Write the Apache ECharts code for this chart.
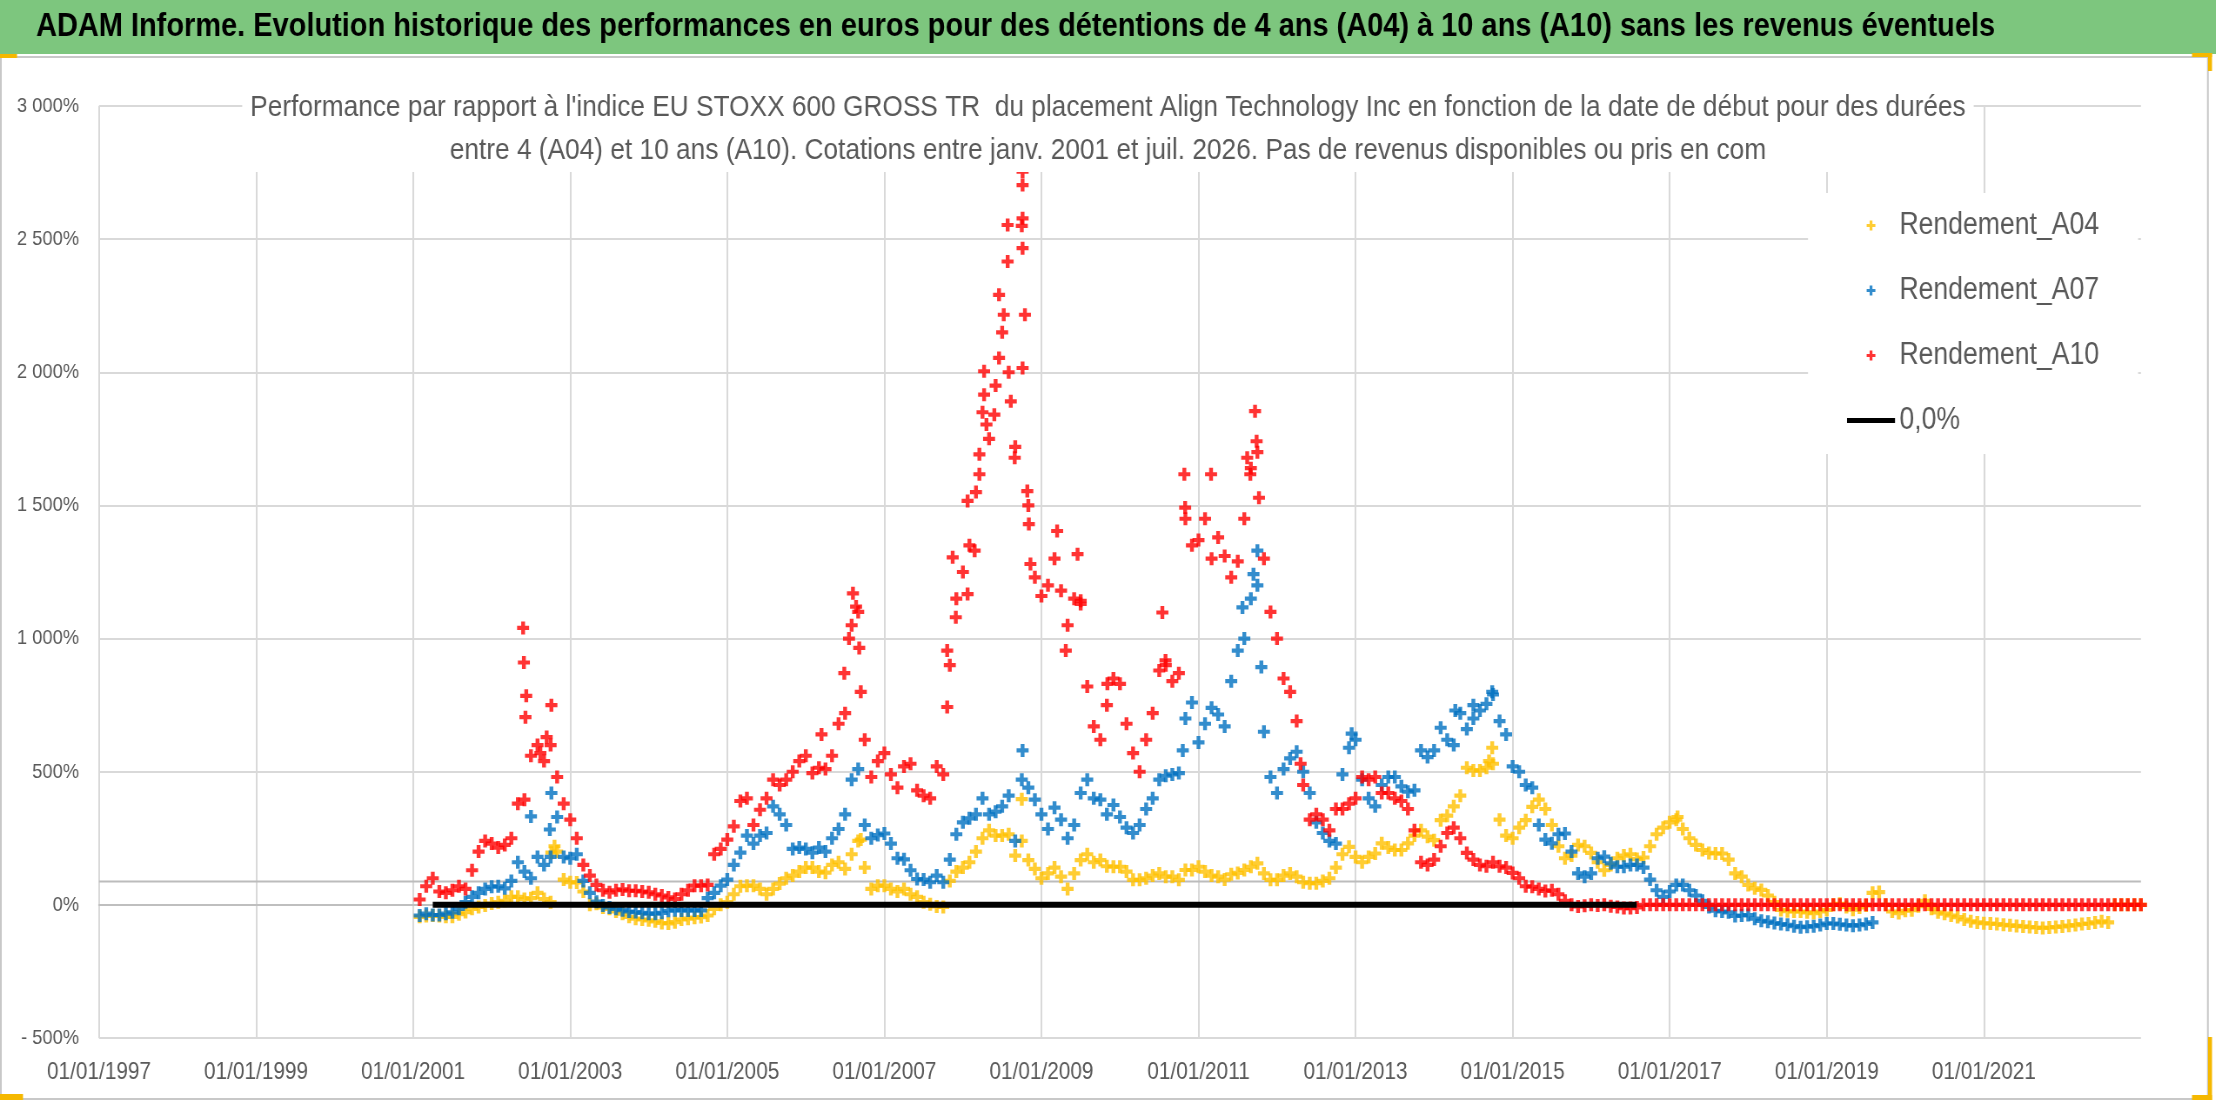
<!DOCTYPE html>
<html>
<head>
<meta charset="utf-8">
<title>ADAM Informe - Align Technology Inc</title>
<script src="https://cdn.jsdelivr.net/npm/echarts@6/dist/echarts.min.js"></script>
<style>
  html, body { margin: 0; padding: 0; background: #fff; overflow: hidden; }
  /* Calibri-like proportions: the chart is drawn wider, then narrowed */
  #chart { width: 2547px; height: 1102px; transform: scaleX(0.87); transform-origin: 0 0; }
</style>
</head>
<body>
<div id="chart"></div>
<script>
// tick labels
var xTickLabels = ['01/01/1997', '01/01/1999', '01/01/2001', '01/01/2003', '01/01/2005', '01/01/2007',
  '01/01/2009', '01/01/2011', '01/01/2013', '01/01/2015', '01/01/2017', '01/01/2019', '01/01/2021'];
var yTickLabels = ['- 500%', '0%', '500%', '1 000%', '1 500%', '2 000%', '2 500%', '3 000%'];

// monthly values (%), first value = fevrier 2001
var firstMonth = 2001 + 1 / 12;

var a04 = [
  -45, -42, -40, -42, -45, -45, -35, -27, -15, -8, -2, 5,
  10, 15, 30, 30, 22, 25, 45, 22, 10, 200, 95, 85,
  84, 50, 0, 4, -10, -15, -25, -33, -45, -52, -55, -58,
  -62, -68, -70, -65, -55, -52, -48, -46, -40, -15, 0, 10,
  40, 70, 72, 72, 60, 40, 60, 80, 100, 110, 125, 140,
  140, 125, 121, 150, 160, 135, 190, 240, 140, 60, 72, 72,
  60, 50, 60, 40, 30, 10, 2, -6, -8, 90, 125, 140,
  160, 200, 250, 280, 260, 260, 265, 185, 240, 168, 135, 100,
  118, 140, 106, 60, 118, 168, 190, 160, 168, 145, 143, 143,
  125, 94, 94, 100, 110, 118, 106, 106, 94, 131, 131, 143,
  125, 110, 106, 95, 115, 120, 131, 143, 156, 118, 94, 94,
  110, 118, 106, 85, 81, 81, 90, 100, 140, 190, 218, 180,
  160, 180, 193, 231, 215, 206, 206, 231, 260, 280, 256, 243,
  318, 335, 370, 410, 515, 505, 505, 515, 530, 320, 260, 250,
  290, 318, 368, 395, 360, 300, 220, 175, 185, 225, 220, 195,
  160, 130, 150, 175, 185, 190, 172, 178, 220, 265, 290, 310,
  320, 285, 250, 225, 206, 195, 193, 193, 170, 118, 106, 75,
  62, 56, 35, 10, -19, -24, -25, -25, -28, -31, -25, -19,
  0, 4, -8, -18, -10, -2, 45, 48, 0, -25, -31, -22,
  -20, -5, 15, -15, -28, -33, -40, -46, -55, -62, -66, -69,
  -70, -72, -75, -77, -79, -81, -83, -85, -87, -85, -83, -81,
  -78, -76, -72, -70, -66, -62, -66,
  0, 0, 0, 0, 0
];

var a07 = [
  -40, -33, -38, -38, -33, -28, -15, 10, 30, 45, 60, 68,
  70, 62, 90, 160, 125, 100, 180, 150, 180, 330, 180, 175,
  190, 90, 45, 12, -2, -10, -15, -20, -25, -27, -30, -33,
  -33, -30, -22, -20, -21, -21, -21, -21, 25, 45, 72, 95,
  150, 196, 260, 230, 260, 270, 370, 340, 300, 210, 215, 210,
  196, 215, 200, 250, 285, 340, 470, 510, 300, 250, 262, 268,
  230, 175, 171, 130, 97, 95, 85, 110, 85, 170, 265, 310,
  325, 340, 400, 340, 350, 370, 410, 240, 470, 440, 395, 340,
  285, 365, 320, 250, 300, 420, 470, 400, 395, 340, 375, 330,
  290, 270, 300, 360, 400, 470, 485, 490, 495, 700, 760, 610,
  680, 740, 715, 670, 840, 955, 1000, 1150, 1200, 650, 480, 420,
  510, 550, 575, 500, 420, 310, 270, 240, 230, 490, 590, 620,
  470, 400, 370, 450, 480, 480, 445, 425, 430, 580, 555, 580,
  665, 620, 600, 720, 660, 700, 730, 755, 790, 690, 640, 520,
  500, 450, 440, 300, 245, 231, 265, 268, 200, 118, 106, 118,
  175, 181, 156, 143, 143, 150, 150, 140, 95, 55, 30, 50,
  75, 75, 55, 35, 15, -8, -22, -25, -28, -42, -40, -38,
  -52, -60, -63, -68, -72, -75, -80, -84, -82, -80, -76, -70,
  -70, -73, -76, -78, -76, -72, -66
];

var a10 = [
  20, 70, 100, 50, 45, 55, 70, 60, 130, 200, 240, 230,
  215, 225, 250, 380, 395, 560, 600, 540, 600, 480, 380, 320,
  250, 150, 110, 75, 55, 47, 55, 58, 53, 53, 50, 47,
  40, 35, 28, 22, 40, 55, 72, 72, 75, 190, 210, 245,
  295, 390, 400, 300, 357, 400, 470, 450, 470, 500, 540, 560,
  495, 515, 510, 560, 680, 720, 1050, 1100, 620, 480, 540, 570,
  490, 440, 520, 530, 430, 410, 400, 520, 490, 900, 1150, 1250,
  1350, 1550, 1850, 1750, 1950, 2150, 2000, 1720, 2550, 1500, 1230, 1160,
  1200, 1300, 1180, 1050, 1150, 1130, 820, 670, 620, 750, 850, 830,
  680, 570, 500, 620, 720, 880, 900, 840, 870, 1450, 1350, 1370,
  1450, 1300, 1380, 1310, 1230, 1290, 1450, 1640, 1700, 1300, 1100, 1000,
  850, 800, 690, 450, 320, 340, 320, 280, 360, 360, 380, 400,
  480, 470, 480, 420, 420, 400, 390, 360, 280, 160, 150, 170,
  220, 270, 290, 250, 195, 170, 150, 145, 160, 145, 140, 120,
  100, 70, 68, 60, 52, 55, 40, 15, 0, -6, -3, 0,
  -2, 0, -5, -8, -12, -12, -10,
  // valeurs nulles ensuite
  0, 0, 0, 0, 0, 0, 0, 0, 0, 0, 0, 0, 0, 0, 0, 0, 0, 0, 0, 0,
  0, 0, 0, 0, 0, 0, 0, 0, 0, 0, 0, 0, 0, 0, 0, 0, 0, 0, 0, 0,
  0, 0, 0, 0, 0, 0, 0, 0, 0, 0, 0, 0, 0, 0, 0, 0, 0, 0, 0, 0,
  0, 0, 0, 0, 0, 0, 0, 0, 0, 0, 0, 0, 0, 0, 0, 0, 0
];

// isolated points (date in years, %)
var a04Spikes = [[2002.76, 196], [2002.80, 220], [2006.70, 245], [2008.75, 397], [2014.74, 590],
  [2014.70, 540], [2017.10, 330]];
var a07Spikes = [[2002.50, 332], [2002.76, 420], [2002.74, 283], [2008.76, 580], [2010.80, 580],
  [2011.56, 1117], [2011.70, 1242], [2011.75, 1330], [2011.80, 893], [2012.95, 643],
  [2014.27, 730], [2014.50, 750], [2014.74, 800]];
var a10Spikes = [[2002.40, 1040], [2002.41, 910], [2002.44, 785], [2002.43, 705], [2002.76, 750],
  [2002.70, 630], [2002.62, 570], [2006.55, 1000], [2006.60, 1170], [2006.64, 1120], [2006.68, 965],
  [2006.70, 800], [2006.49, 870], [2006.20, 640], [2007.80, 743], [2007.80, 955], [2007.87, 1305],
  [2007.91, 1080], [2008.06, 1517], [2008.06, 1167], [2008.15, 1330], [2008.21, 1692], [2008.21, 1617],
  [2008.27, 1916], [2008.27, 2004], [2008.30, 1804], [2008.40, 1841], [2008.46, 2291], [2008.46, 2054],
  [2008.52, 2216], [2008.57, 2416], [2008.57, 2553], [2008.61, 1891], [2008.66, 1679], [2008.76, 2753],
  [2008.76, 2703], [2008.76, 2578], [2008.76, 2466], [2008.76, 2016], [2008.79, 2216], [2008.82, 1554],
  [2008.84, 1430], [2008.86, 1280], [2009.20, 1404], [2009.31, 955], [2009.46, 1317], [2009.50, 1142],
  [2009.84, 830], [2010.54, 1098], [2010.58, 918], [2010.82, 1617], [2010.83, 1492], [2011.16, 1617],
  [2011.62, 1679], [2011.66, 1617], [2011.72, 1854], [2011.74, 1741], [2011.77, 1529], [2012.30, 530]];

// reference line 0,0% and the grey horizontal axis line
var zeroLine = [[2001.25, 0], [2016.58, 0]];
var greyLevel = 88;

var FONT = "'Liberation Sans', Arial, sans-serif";
var PLUS = 'path://M3.4,0H6.6V3.4H10V6.6H6.6V10H3.4V6.6H0V3.4H3.4Z';

var TITLE = 'ADAM Informe. Evolution historique des performances en euros pour des détentions de 4 ans (A04) à 10 ans (A10) sans les revenus éventuels';
var SUB1 = "Performance par rapport à l'indice EU STOXX 600 GROSS TR  du placement Align Technology Inc en fonction de la date de début pour des durées";
var SUB2 = 'entre 4 (A04) et 10 ans (A10). Cotations entre janv. 2001 et juil. 2026. Pas de revenus disponibles ou pris en com';

// horizontal squeeze applied to the container (see CSS)
var SX = 0.87;
function sx(v) { return v / SX; }

// font size giving a text the width it has in the reference
var measureCtx = document.createElement('canvas').getContext('2d');
function fitSize(text, weight, width) {
  measureCtx.font = weight + ' 100px ' + FONT;
  return Math.round(1000 * sx(width) / measureCtx.measureText(text).width) / 10;
}
var titleSize = fitSize(TITLE, 'bold', 1957);
var subSize = fitSize(SUB1, 'normal', 1716);
var legendSize = fitSize('Rendement_A04', 'normal', 200);
var xLabelSize = fitSize('01/01/1997', 'normal', 104);
var yLabelSize = fitSize('3 000%', 'normal', 62);

function toPoints(values, spikes) {
  var pts = values.map(function (v, i) { return [firstMonth + i / 12, v]; });
  return pts.concat(spikes);
}

var chart = echarts.init(document.getElementById('chart'));

var markSize = [sx(12), 13];

var option = {
  backgroundColor: '#fff',
  animation: false,
  textStyle: { fontFamily: FONT },
  title: [
    {
      text: TITLE,
      left: sx(36),
      top: 6,
      padding: 0,
      z: 10,
      textStyle: { fontFamily: FONT, fontSize: titleSize, fontWeight: 'bold', color: '#000', lineHeight: 42 }
    },
    {
      text: SUB1 + '\n' + SUB2,
      left: 'center',
      top: 86,
      padding: [0, sx(8), 0, sx(8)],
      backgroundColor: '#fff',
      z: 10,
      textStyle: { fontFamily: FONT, fontSize: subSize, fontWeight: 'normal', color: '#595959', lineHeight: 43 }
    }
  ],
  legend: {
    orient: 'vertical',
    left: sx(1808),
    top: 193,
    padding: [17, sx(39), 18, sx(39)],
    backgroundColor: '#fff',
    itemWidth: sx(48),
    itemHeight: 10,
    itemGap: 34,
    z: 10,
    textStyle: { fontFamily: FONT, fontSize: legendSize, color: '#595959', lineHeight: 30 },
    data: [
      { name: 'Rendement_A04', icon: PLUS },
      { name: 'Rendement_A07', icon: PLUS },
      { name: 'Rendement_A10', icon: PLUS },
      { name: '0,0%', icon: 'path://M0,0H55V5H0Z' }
    ]
  },
  grid: { left: sx(99), right: sx(75), top: 106, bottom: 64, containLabel: false },
  xAxis: {
    type: 'value',
    min: 1997,
    max: 2023,
    interval: 2,
    axisLine: { show: true, lineStyle: { color: '#bfbfbf', width: 2 } },
    axisTick: { show: false },
    splitLine: { show: true, showMaxLine: false, lineStyle: { color: '#d9d9d9', width: 2 } },
    axisLabel: {
      color: '#595959',
      fontFamily: FONT,
      fontSize: xLabelSize,
      margin: 22,
      showMaxLabel: false,
      formatter: function (v) {
        var i = Math.round((v - 1997) / 2);
        return xTickLabels[i] || '';
      }
    }
  },
  yAxis: {
    type: 'value',
    min: -500,
    max: 3000,
    interval: 500,
    axisLine: { show: false },
    axisTick: { show: false },
    splitLine: {
      show: true,
      lineStyle: {
        width: 2,
        color: ['#d9d9d9', 'rgba(0,0,0,0)', '#d9d9d9', '#d9d9d9', '#d9d9d9', '#d9d9d9', '#d9d9d9', '#d9d9d9']
      }
    },
    axisLabel: {
      color: '#595959',
      fontFamily: FONT,
      fontSize: yLabelSize,
      margin: sx(20),
      formatter: function (v) {
        var i = Math.round((v + 500) / 500);
        return yTickLabels[i] || '';
      }
    }
  },
  series: [
    {
      name: 'niveau',
      type: 'line',
      silent: true,
      symbol: 'none',
      data: [[1997, greyLevel], [2023, greyLevel]],
      lineStyle: { color: '#bcbcbc', width: 2 },
      z: 1
    },
    {
      name: 'Rendement_A04',
      type: 'scatter',
      symbol: PLUS,
      symbolSize: markSize,
      itemStyle: { color: '#FFC000' },
      data: toPoints(a04, a04Spikes)
    },
    {
      name: 'Rendement_A07',
      type: 'scatter',
      symbol: PLUS,
      symbolSize: markSize,
      itemStyle: { color: '#0070C0' },
      data: toPoints(a07, a07Spikes)
    },
    {
      name: 'Rendement_A10',
      type: 'scatter',
      symbol: PLUS,
      symbolSize: markSize,
      itemStyle: { color: '#FF0000' },
      data: toPoints(a10, a10Spikes)
    },
    {
      name: '0,0%',
      type: 'line',
      symbol: 'none',
      color: '#000',
      data: zeroLine,
      lineStyle: { color: '#000', width: 6 }
    }
  ],
  graphic: [
    { type: 'rect', z: 0, silent: true, shape: { x: 0, y: 0, width: sx(2216), height: 54 }, style: { fill: '#7dc67e' } },
    { type: 'rect', z: 0, silent: true, shape: { x: 1, y: 57, width: sx(2207), height: 1042 },
      style: { fill: null, stroke: '#c8c8c8', lineWidth: 2 } },
    { type: 'rect', z: 20, silent: true, shape: { x: 0, y: 54, width: sx(17), height: 4 }, style: { fill: '#f5b800' } },
    { type: 'rect', z: 20, silent: true, shape: { x: sx(2192), y: 53, width: sx(20), height: 4 }, style: { fill: '#f5b800' } },
    { type: 'rect', z: 20, silent: true, shape: { x: sx(2208), y: 53, width: sx(4), height: 18 }, style: { fill: '#f5b800' } },
    { type: 'rect', z: 20, silent: true, shape: { x: sx(2208), y: 1037, width: sx(4), height: 63 }, style: { fill: '#f5b800' } },
    { type: 'rect', z: 20, silent: true, shape: { x: sx(2192), y: 1095, width: sx(20), height: 5 }, style: { fill: '#f5b800' } },
    { type: 'rect', z: 20, silent: true, shape: { x: 0, y: 1094, width: sx(23), height: 6 }, style: { fill: '#f5b800' } }
  ]
};

chart.setOption(option);
</script>
</body>
</html>
